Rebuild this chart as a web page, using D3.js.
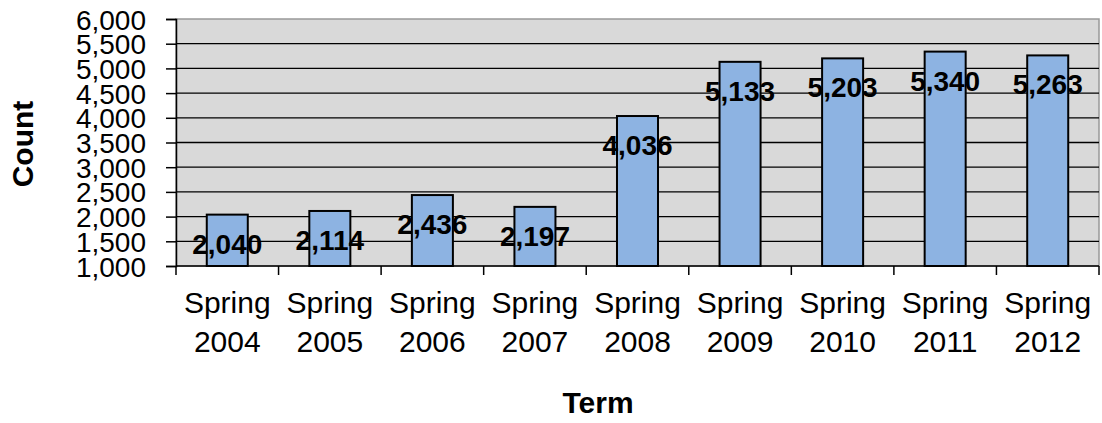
<!DOCTYPE html>
<html>
<head>
<meta charset="utf-8">
<script src="https://cdn.jsdelivr.net/npm/d3@7"></script>
<style>
  body { margin: 0; background: #fff; }
  text { font-family: "Liberation Sans", Arial, sans-serif; fill: #000; }
</style>
</head>
<body>
<script>
const width = 1102;
const height = 423;
const margin = {top: 19, left: 176, bottom: 157, right: 3};

const terms = ['Spring 2004', 'Spring 2005', 'Spring 2006', 'Spring 2007', 'Spring 2008',
  'Spring 2009', 'Spring 2010', 'Spring 2011', 'Spring 2012'];
const counts = [2040, 2114, 2436, 2197, 4036, 5133, 5203, 5340, 5263];
const yTicks = [1000, 1500, 2000, 2500, 3000, 3500, 4000, 4500, 5000, 5500, 6000];

const data = terms.map((t, i) => ({term: t, count: counts[i]}));

const x = d3.scaleBand()
  .domain(terms)
  .range([margin.left, width - margin.right])
  .paddingInner(0.6)
  .paddingOuter(0.3);

const y = d3.scaleLinear()
  .domain([1000, 6000])
  .range([height - margin.bottom, margin.top]);

const fmt = d3.format(',');

const svg = d3.select('body').append('svg')
  .attr('width', width).attr('height', height);

// plot background
svg.append('rect')
  .attr('x', margin.left).attr('y', margin.top)
  .attr('width', width - margin.right - margin.left)
  .attr('height', y(1000) - margin.top)
  .attr('fill', '#d9d9d9')
  .attr('stroke', '#999').attr('stroke-width', 1.5);

// gridlines
svg.append('g')
  .selectAll('line').data(yTicks.slice(1, -1)).enter().append('line')
  .attr('x1', margin.left).attr('x2', width - margin.right)
  .attr('y1', d => y(d)).attr('y2', d => y(d))
  .attr('stroke', '#000').attr('stroke-width', 1.3);

// bars
svg.append('g')
  .selectAll('rect').data(data).enter().append('rect')
  .attr('x', d => x(d.term))
  .attr('y', d => y(d.count))
  .attr('width', x.bandwidth())
  .attr('height', d => y(1000) - y(d.count))
  .attr('fill', '#8db3e2')
  .attr('stroke', '#000').attr('stroke-width', 2);

// y axis
const yAxis = svg.append('g')
  .attr('transform', `translate(${margin.left},0)`)
  .call(d3.axisLeft(y).tickValues(yTicks).tickFormat(fmt).tickSize(10).tickPadding(20));
yAxis.selectAll('path, line').attr('stroke', '#000').attr('stroke-width', 1.5);
yAxis.selectAll('text')
  .attr('font-size', 28)
  .attr('dy', '0.36em')
  .style('font-family', '"Liberation Sans", Arial, sans-serif');

// x axis with ticks at category boundaries
const step = x.step();
const boundaries = d3.range(terms.length + 1).map(i => margin.left + i * step);
const xAxisG = svg.append('g');
xAxisG.append('line')
  .attr('x1', margin.left).attr('x2', width - margin.right)
  .attr('y1', y(1000)).attr('y2', y(1000))
  .attr('stroke', '#000').attr('stroke-width', 1.5);
xAxisG.selectAll('.tick').data(boundaries).enter().append('line')
  .attr('x1', d => d).attr('x2', d => d)
  .attr('y1', y(1000)).attr('y2', y(1000) + 9)
  .attr('stroke', '#000').attr('stroke-width', 1.5);

const xLabels = svg.append('g')
  .selectAll('text').data(terms).enter().append('text')
  .attr('text-anchor', 'middle')
  .attr('font-size', 30)
  .attr('x', d => x(d) + x.bandwidth() / 2);
xLabels.append('tspan').attr('x', d => x(d) + x.bandwidth() / 2).attr('y', 313)
  .text(d => d.split(' ')[0]);
xLabels.append('tspan').attr('x', d => x(d) + x.bandwidth() / 2).attr('y', 352)
  .text(d => d.split(' ')[1]);

// value labels
svg.append('g')
  .selectAll('text').data(data).enter().append('text')
  .attr('text-anchor', 'middle')
  .attr('font-size', 28)
  .attr('font-weight', 'bold')
  .attr('x', d => x(d.term) + x.bandwidth() / 2)
  .attr('y', d => y(d.count) + 39)
  .text(d => fmt(d.count));

// axis titles
svg.append('text')
  .attr('text-anchor', 'middle')
  .attr('font-size', 30).attr('font-weight', 'bold')
  .attr('transform', 'translate(33,144) rotate(-90)')
  .text('Count');

svg.append('text')
  .attr('text-anchor', 'middle')
  .attr('font-size', 30).attr('font-weight', 'bold')
  .attr('x', 598).attr('y', 413)
  .text('Term');
</script>
</body>
</html>
